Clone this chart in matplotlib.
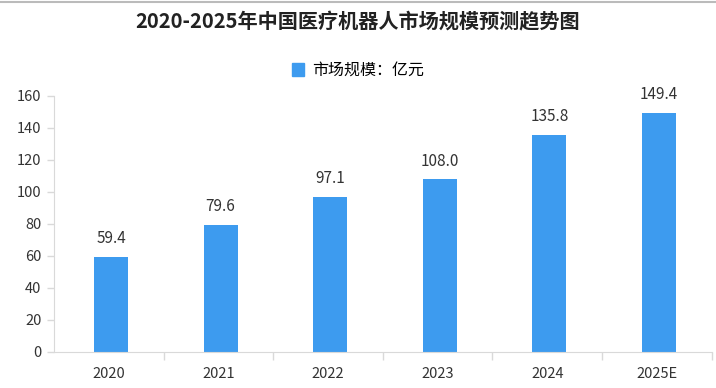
import matplotlib.pyplot as plt
from matplotlib.patches import Patch

plt.rcParams['font.family'] = ['Noto Sans CJK SC', 'DejaVu Sans']

years = ['2020', '2021', '2022', '2023', '2024', '2025E']
market_size = [59.4, 79.6, 97.1, 108.0, 135.8, 149.4]
yticks = [0, 20, 40, 60, 80, 100, 120, 140, 160]

bar_color = '#3d9bef'
axis_color = '#d9d9d9'
text_color = '#333333'

fig = plt.figure(figsize=(7.16, 3.88), dpi=100)
ax = fig.add_axes([0.0754, 0.0928, 0.9186, 0.66])

x = list(range(len(years)))
bars = ax.bar([xi + 0.02 for xi in x], market_size, width=0.31, color=bar_color, zorder=2)

for xi, v in zip(x, market_size):
    ax.text(xi + 0.02, v + 6, f'{v:.1f}', ha='center', va='bottom', fontsize=11, color=text_color)

ax.set_xlim(-0.5, len(years) - 0.5)
ax.set_ylim(0, 160)
ax.set_yticks(yticks)
ax.set_yticklabels([str(t) for t in yticks], fontsize=10.5, color=text_color)

# category labels centred, tick marks between categories
ax.set_xticks(x)
ax.set_xticklabels(years, fontsize=10.5, color=text_color)
ax.tick_params(axis='x', length=0, pad=11)
ax.set_xticks([i + 0.5 for i in range(len(years))], minor=True)
ax.tick_params(axis='x', which='minor', length=6, color=axis_color, width=1)
ax.tick_params(axis='y', length=5, color=axis_color, width=1, pad=4)

for side in ['top', 'right']:
    ax.spines[side].set_visible(False)
ax.spines['left'].set_color(axis_color)
ax.spines['bottom'].set_color(axis_color)

fig.text(0.5, 0.943, '2020-2025年中国医疗机器人市场规模预测趋势图', ha='center', va='center',
         fontsize=14.5, fontweight='bold', color='#222222')

fig.legend(handles=[Patch(color=bar_color, label='市场规模：亿元')], loc='center',
           bbox_to_anchor=(0.5, 0.818), frameon=False, fontsize=11.5,
           handlelength=0.8, handleheight=0.8, handletextpad=0.5)

# thin grey border at top of picture
fig.add_artist(plt.Line2D([0, 1], [0.995, 0.995], color='#bbbbbb', lw=1.5, transform=fig.transFigure))

fig.savefig('out.png', dpi=100)
